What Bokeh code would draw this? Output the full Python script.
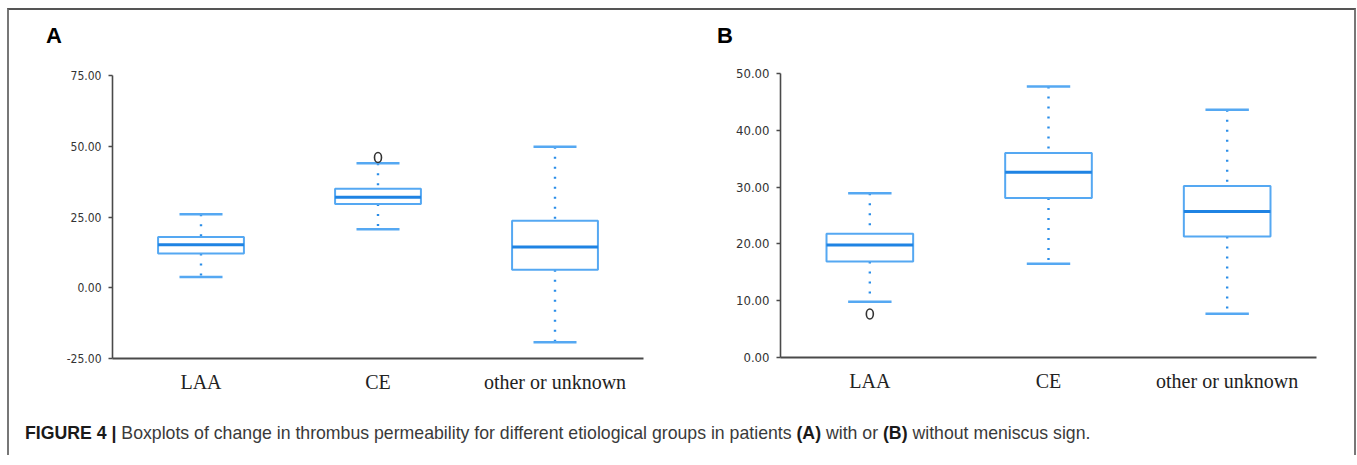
from bokeh.plotting import figure
from bokeh.models import (FactorRange, Range1d, FixedTicker, NumeralTickFormatter,
                          Div, ColumnDataSource)
from bokeh.transform import dodge
from bokeh.layouts import column, row
from bokeh.embed import file_html
from bokeh.resources import INLINE

categories = ["LAA", "CE", "other or unknown"]

# Panel A: with meniscus sign
a_lower = [3.8, 20.7, -19.3]
a_q1 = [12.1, 29.6, 6.4]
a_median = [15.2, 32.0, 14.4]
a_q3 = [17.9, 35.0, 23.7]
a_upper = [26.0, 44.0, 49.8]
a_out_cat = ["CE"]
a_out_val = [46.0]
a_ticks = [-25, 0, 25, 50, 75]

# Panel B: without meniscus sign
b_lower = [9.8, 16.5, 7.7]
b_q1 = [16.9, 28.1, 21.3]
b_median = [19.8, 32.6, 25.7]
b_q3 = [21.8, 36.0, 30.2]
b_upper = [28.9, 47.7, 43.6]
b_out_cat = ["LAA"]
b_out_val = [7.65]
b_ticks = [0, 10, 20, 30, 40, 50]

BOX = "#55a8f2"
MED = "#1f83e3"
WHISK = "#2a8de8"
AXIS = "#4a4a4a"

BOX_W = 0.485
CAP_W = 0.243

TICK_FONT = "DejaVu Sans Condensed, Liberation Sans, sans-serif"
HEAD_H = 40


def panel(lower, q1, med, q3, upper, out_cat, out_val, ticks,
          width, height, mbl, mbr, mbt, mbb, tick_size):
    p = figure(width=width, height=height, x_range=FactorRange(*categories),
               y_range=Range1d(ticks[0], ticks[-1]),
               output_backend="svg", toolbar_location=None,
               min_border_left=mbl, min_border_right=mbr,
               min_border_top=mbt, min_border_bottom=mbb)
    p.outline_line_color = None
    p.xgrid.visible = False
    p.ygrid.visible = False
    p.background_fill_color = "white"
    p.border_fill_color = "white"

    src = ColumnDataSource(dict(cat=categories, lower=lower, q1=q1, med=med,
                                q3=q3, upper=upper))
    # whiskers (dotted)
    p.segment(x0="cat", y0="upper", x1="cat", y1="q3", source=src,
              line_color=WHISK, line_width=2.4, line_dash="2 8")
    p.segment(x0="cat", y0="q1", x1="cat", y1="lower", source=src,
              line_color=WHISK, line_width=2.4, line_dash="2 8")
    # caps
    for key in ("upper", "lower"):
        p.segment(x0=dodge("cat", -CAP_W / 2, range=p.x_range), y0=key,
                  x1=dodge("cat", CAP_W / 2, range=p.x_range), y1=key,
                  source=src, line_color=BOX, line_width=2.5)
    # boxes
    p.vbar(x="cat", top="q3", bottom="q1", width=BOX_W, source=src,
           fill_color="white", line_color=BOX, line_width=2)
    # medians
    p.segment(x0=dodge("cat", -BOX_W / 2, range=p.x_range), y0="med",
              x1=dodge("cat", BOX_W / 2, range=p.x_range), y1="med",
              source=src, line_color=MED, line_width=3)
    # outliers
    p.ellipse(x=out_cat, y=out_val, width=7, height=10,
              width_units="screen", height_units="screen",
              fill_color=None, line_color="#333333", line_width=1.6)

    yax = p.yaxis[0]
    yax.ticker = FixedTicker(ticks=ticks)
    yax.formatter = NumeralTickFormatter(format="0.00")
    yax.axis_line_color = AXIS
    yax.axis_line_width = 1.6
    yax.major_tick_line_color = AXIS
    yax.major_tick_line_width = 1.4
    yax.major_tick_out = 4
    yax.major_tick_in = 0
    yax.minor_tick_line_color = None
    yax.major_label_text_font = TICK_FONT
    yax.major_label_text_font_size = tick_size
    yax.major_label_text_color = "#333333"
    yax.major_label_standoff = 7

    xax = p.xaxis[0]
    xax.axis_line_color = AXIS
    xax.axis_line_width = 2.2
    xax.major_tick_line_color = None
    xax.minor_tick_line_color = None
    xax.major_label_text_font = "Liberation Serif"
    xax.major_label_text_font_size = "20px"
    xax.major_label_text_color = "#222222"
    xax.major_label_standoff = 6
    return p


def header(letter, width, pad_left):
    return Div(text=letter, width=width, height=HEAD_H, margin=0,
               styles={"font-family": "Liberation Sans", "font-weight": "bold",
                       "font-size": "22px", "line-height": "26px",
                       "color": "#000000", "padding-left": f"{pad_left}px",
                       "padding-top": "13px", "box-sizing": "border-box"})


p1 = panel(a_lower, a_q1, a_median, a_q3, a_upper, a_out_cat, a_out_val,
           a_ticks, 668, 400 - HEAD_H, 103, 34, 65 - HEAD_H, 52, "12px")
p2 = panel(b_lower, b_q1, b_median, b_q3, b_upper, b_out_cat, b_out_val,
           b_ticks, 677, 400 - HEAD_H, 103, 38, 63 - HEAD_H, 53, "13px")

colA = column(header("A", 668, 37), p1)
colB = column(header("B", 677, 40), p2)

caption = Div(
    text='<span style="font-weight:bold;color:#1a1a1a">FIGURE 4 |</span> '
         'Boxplots of change in thrombus permeability for different etiological '
         'groups in patients <b style="color:#1a1a1a">(A)</b> with or '
         '<b style="color:#1a1a1a">(B)</b> without meniscus sign.',
    width=1330, height=45, margin=0,
    styles={"font-family": "Liberation Sans", "font-size": "17.7px",
            "color": "#3a3a3a", "padding-left": "16px", "padding-top": "13px",
            "line-height": "20px"})

layout = column(row(colA, colB), caption, margin=(8, 0, 0, 7),
                styles={"border-top": "2px solid #555555",
                        "border-left": "2px solid #777777",
                        "border-right": "2px solid #777777"})

open("out.html", "w").write(file_html(layout, INLINE))
